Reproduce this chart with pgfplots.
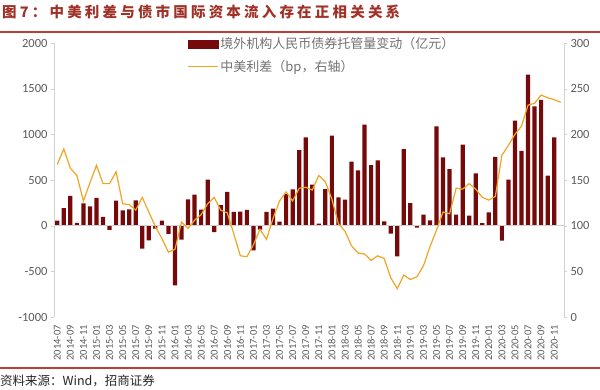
\documentclass[border=0pt]{standalone}
\usepackage{pgfplots}
\pgfplotsset{compat=1.18}
\usepackage{pgfplotstable}
\usepackage{fontspec}
\setmainfont{Carlito}
\newfontfamily\cjk{Noto Sans CJK SC}
\newfontfamily\cjktitle[LetterSpace=22]{Noto Sans CJK SC}
\definecolor{barred}{RGB}{118,10,10}
\definecolor{lineor}{RGB}{240,165,35}
\definecolor{titlered}{RGB}{160,50,40}
\definecolor{rulered}{RGB}{192,60,55}
\definecolor{axgray}{RGB}{210,210,210}
\definecolor{txtgray}{RGB}{89,89,89}

\pgfplotstableread{
x y
0 55
1 193
2 325
3 30
4 245
5 212
6 303
7 95
8 -45
9 274
10 168
11 179
12 277
13 -252
14 -160
15 -33
16 55
17 -90
18 -653
19 -153
20 288
21 340
22 175
23 504
24 -70
25 226
26 369
27 150
28 155
29 172
30 -270
31 -44
32 150
33 186
34 44
35 347
36 398
37 828
38 967
39 449
40 22
41 401
42 985
43 310
44 285
45 700
46 606
47 1106
48 664
49 715
50 47
51 -88
52 -336
53 839
54 248
55 -22
56 120
57 58
58 1088
59 748
60 620
61 120
62 887
63 110
64 573
65 29
66 146
67 752
68 -164
69 504
70 1150
71 818
72 1653
73 1307
74 1376
75 547
76 967
}\bars

\pgfplotstableread{
x y
0 167
1 184
2 163
3 155
4 127
5 147
6 166
7 146
8 146
9 159
10 124
11 123
12 117
13 131
14 115
15 99
16 86
17 71
18 74
19 104
20 97
21 106
22 112
23 124
24 131
25 117
26 114
27 91
28 67
29 66
30 79
31 96
32 85
33 108
34 127
35 137
36 127
37 141
38 142
39 139
40 155
41 148
42 129
43 102
44 94
45 78
46 70
47 69
48 62
49 67
50 64
51 43
52 31
53 46
54 41
55 44
56 56
57 77
58 95
59 115
60 113
61 141
62 140
63 146
64 140
65 131
66 128
67 132
68 177
69 188
70 200
71 209
72 232
73 234
74 243
75 240
76 238
77 235
}\spread

\begin{document}
\begin{tikzpicture}[x=1pt,y=1pt]
\path[use as bounding box] (0,0) rectangle (600,390);
\node[anchor=west, inner sep=0pt, text=titlered] at (2,378) {\cjktitle\bfseries\fontsize{14.5}{16}\selectfont 图7：中美利差与债市国际资本流入存在正相关关系};
\draw[rulered, line width=1.2pt] (0,358) -- (600,358);
\draw[rulered, line width=1.2pt] (0,22) -- (600,22);
\node[anchor=west, inner sep=0pt, text=black!85] at (0,9) {\cjk\fontsize{12.5}{14}\selectfont 资料来源：Wind，招商证券};

\begin{axis}[
  at={(54pt,73pt)}, anchor=south west, scale only axis,
  width=510pt, height=274pt,
  xmin=-0.5, xmax=77.5, ymin=-1000, ymax=2000,
  axis y line*=left, axis x line*=bottom,
  x axis line style={draw=none},
  y axis line style={draw=axgray},
  ytick={-1000,-500,0,500,1000,1500,2000},
  yticklabels={-1000,-500,0,500,1000,1500,2000},
  xtick={0,2,...,76},
  xticklabels={2014-07,2014-09,2014-11,2015-01,2015-03,2015-05,2015-07,2015-09,2015-11,2016-01,2016-03,2016-05,2016-07,2016-09,2016-11,2017-01,2017-03,2017-05,2017-07,2017-09,2017-11,2018-01,2018-03,2018-05,2018-07,2018-09,2018-11,2019-01,2019-03,2019-05,2019-07,2019-09,2019-11,2020-01,2020-03,2020-05,2020-07,2020-09,2020-11},
  tick align=outside, major tick length=3pt,
  ytick style={draw=axgray}, xtick style={draw=none},
  xticklabel style={rotate=90, anchor=east, font=\fontsize{10.5}{12}\selectfont, text=txtgray, inner xsep=5pt, inner ysep=0pt},
  yticklabel style={font=\fontsize{12.5}{14}\selectfont, text=txtgray},
  ybar, bar width=4.2pt,
]
\addplot[fill=barred, draw=none] table {\bars};
\draw[axgray] (axis cs:-0.5,0) -- (axis cs:77.5,0);
\end{axis}

\begin{axis}[
  at={(54pt,73pt)}, anchor=south west, scale only axis,
  width=510pt, height=274pt,
  xmin=-0.5, xmax=77.5, ymin=0, ymax=300,
  axis y line*=right, axis x line=none,
  y axis line style={draw=axgray},
  ytick={0,50,100,150,200,250,300},
  yticklabels={0,50,100,150,200,250,300},
  tick align=outside, major tick length=3pt, ytick style={draw=axgray},
  yticklabel style={font=\fontsize{12.5}{14}\selectfont, text=txtgray},
  legend cell align=left,
  legend style={draw=none, fill=none, at={(axis description cs:0.255,1.035)}, anchor=north west,
    font=\cjk\fontsize{13}{15}\selectfont, text=txtgray!85, row sep=6pt},
]
\addlegendimage{legend image code/.code={\fill[barred] (0pt,-4pt) rectangle (30pt,4pt);}}
\addlegendentry{境外机构人民币债券托管量变动（亿元）}
\addplot[lineor, line width=1.2pt, no marks, legend image code/.code={\draw[lineor,line width=1.2pt] (0pt,0pt) -- (30pt,0pt);}] table {\spread};
\addlegendentry{中美利差（bp，右轴）}
\end{axis}
\end{tikzpicture}
\end{document}
